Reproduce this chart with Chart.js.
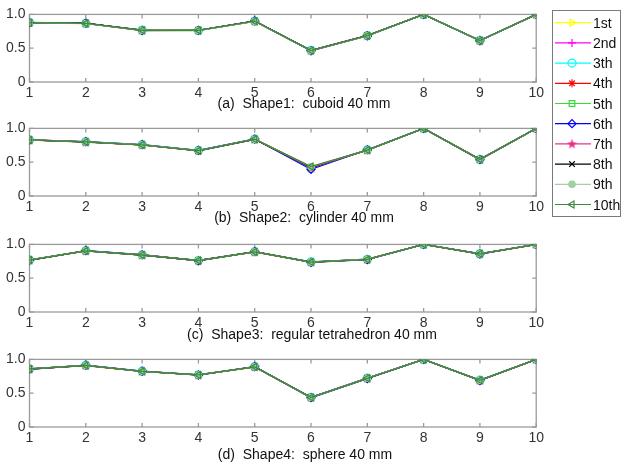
<!DOCTYPE html>
<html>
<head>
<meta charset="utf-8">
<script src="https://cdn.jsdelivr.net/npm/chart.js"></script>
<style>
  body { margin: 0; background: #fff; width: 622px; height: 467px; position: relative; overflow: hidden;
         font-family: "Liberation Sans", Arial, sans-serif; }
  canvas { position: absolute; }
  .caption { position: absolute; width: 400px; text-align: center; font-size: 14px;
             line-height: 16px; color: #111; white-space: pre; }
  .legend-text { position: absolute; left: 593px; font-size: 14px; line-height: 16px; color: #111; }
</style>
</head>
<body>
<canvas id="panel0" width="547" height="102" style="left:0;top:2px"></canvas>
<canvas id="panel1" width="547" height="102" style="left:0;top:116px"></canvas>
<canvas id="panel2" width="547" height="102" style="left:0;top:232px"></canvas>
<canvas id="panel3" width="547" height="102" style="left:0;top:347px"></canvas>
<canvas id="legendCanvas" width="70" height="208" style="left:552px;top:10px"></canvas>
<div id="captions"></div>
<div id="legendTexts"></div>
<script>
// chart data
const xValues = [1, 2, 3, 4, 5, 6, 7, 8, 9, 10];
const yTicks = [0, 0.5, 1];
const seriesNames = ['1st', '2nd', '3th', '4th', '5th', '6th', '7th', '8th', '9th', '10th'];
const captions = [
    '(a)  Shape1:  cuboid 40 mm',
    '(b)  Shape2:  cylinder 40 mm',
    '(c)  Shape3:  regular tetrahedron 40 mm',
    '(d)  Shape4:  sphere 40 mm'
];

const shape1Values = [
    [0.876, 0.864, 0.762, 0.760, 0.896, 0.462, 0.682, 1.000, 0.609, 1.000],
    [0.878, 0.867, 0.765, 0.763, 0.899, 0.465, 0.685, 1.000, 0.612, 1.000],
    [0.880, 0.866, 0.768, 0.762, 0.901, 0.468, 0.686, 0.998, 0.615, 1.000],
    [0.879, 0.868, 0.766, 0.765, 0.898, 0.466, 0.688, 1.000, 0.613, 0.998],
    [0.881, 0.869, 0.766, 0.767, 0.900, 0.465, 0.686, 1.000, 0.612, 1.000],
    [0.875, 0.870, 0.761, 0.764, 0.903, 0.461, 0.681, 1.000, 0.608, 1.000],
    [0.878, 0.867, 0.765, 0.763, 0.899, 0.465, 0.685, 1.000, 0.612, 1.000],
    [0.879, 0.866, 0.767, 0.764, 0.900, 0.467, 0.686, 1.000, 0.614, 1.000],
    [0.877, 0.865, 0.764, 0.762, 0.897, 0.464, 0.684, 1.000, 0.611, 1.000],
    [0.878, 0.867, 0.765, 0.763, 0.899, 0.465, 0.685, 1.000, 0.612, 1.000]
];
const shape2Values = [
    [0.826, 0.797, 0.754, 0.668, 0.836, 0.415, 0.676, 1.000, 0.538, 1.000],
    [0.829, 0.800, 0.757, 0.671, 0.839, 0.425, 0.679, 1.000, 0.541, 1.000],
    [0.831, 0.803, 0.759, 0.674, 0.842, 0.405, 0.683, 0.998, 0.544, 1.000],
    [0.832, 0.800, 0.756, 0.670, 0.840, 0.430, 0.680, 1.000, 0.541, 0.998],
    [0.829, 0.801, 0.757, 0.671, 0.839, 0.420, 0.679, 1.000, 0.542, 1.000],
    [0.827, 0.804, 0.760, 0.675, 0.843, 0.395, 0.684, 1.000, 0.537, 1.000],
    [0.829, 0.800, 0.757, 0.671, 0.839, 0.415, 0.679, 1.000, 0.541, 1.000],
    [0.830, 0.798, 0.755, 0.669, 0.837, 0.425, 0.677, 1.000, 0.543, 1.000],
    [0.831, 0.801, 0.758, 0.672, 0.840, 0.432, 0.680, 1.000, 0.541, 1.000],
    [0.829, 0.800, 0.757, 0.671, 0.839, 0.435, 0.679, 1.000, 0.541, 1.000]
];
const shape3Values = [
    [0.765, 0.902, 0.840, 0.757, 0.887, 0.735, 0.775, 1.000, 0.857, 1.000],
    [0.768, 0.905, 0.843, 0.760, 0.890, 0.738, 0.778, 1.000, 0.860, 1.000],
    [0.771, 0.907, 0.846, 0.762, 0.893, 0.741, 0.780, 0.998, 0.863, 1.000],
    [0.770, 0.904, 0.844, 0.763, 0.891, 0.739, 0.781, 1.000, 0.861, 0.998],
    [0.768, 0.905, 0.843, 0.760, 0.890, 0.738, 0.778, 1.000, 0.860, 1.000],
    [0.764, 0.908, 0.847, 0.757, 0.894, 0.734, 0.776, 1.000, 0.856, 1.000],
    [0.768, 0.905, 0.843, 0.760, 0.890, 0.738, 0.778, 1.000, 0.860, 1.000],
    [0.769, 0.903, 0.842, 0.762, 0.888, 0.740, 0.779, 1.000, 0.862, 1.000],
    [0.770, 0.905, 0.844, 0.761, 0.890, 0.738, 0.780, 1.000, 0.860, 1.000],
    [0.768, 0.905, 0.843, 0.760, 0.890, 0.738, 0.778, 1.000, 0.860, 1.000]
];
const shape4Values = [
    [0.855, 0.908, 0.820, 0.767, 0.887, 0.434, 0.718, 1.000, 0.687, 1.000],
    [0.858, 0.911, 0.823, 0.770, 0.890, 0.437, 0.721, 1.000, 0.690, 1.000],
    [0.861, 0.914, 0.826, 0.773, 0.893, 0.440, 0.724, 0.998, 0.693, 1.000],
    [0.860, 0.911, 0.824, 0.771, 0.891, 0.438, 0.722, 1.000, 0.691, 0.998],
    [0.858, 0.911, 0.823, 0.770, 0.890, 0.437, 0.721, 1.000, 0.690, 1.000],
    [0.854, 0.915, 0.827, 0.766, 0.894, 0.433, 0.717, 1.000, 0.686, 1.000],
    [0.858, 0.911, 0.823, 0.770, 0.890, 0.437, 0.721, 1.000, 0.690, 1.000],
    [0.859, 0.909, 0.822, 0.772, 0.888, 0.439, 0.723, 1.000, 0.692, 1.000],
    [0.860, 0.911, 0.824, 0.770, 0.890, 0.437, 0.722, 1.000, 0.690, 1.000],
    [0.858, 0.911, 0.823, 0.770, 0.890, 0.437, 0.721, 1.000, 0.690, 1.000]
];
const panelValues = [shape1Values, shape2Values, shape3Values, shape4Values];

// series styles (matlab-like markers)
const seriesColors = ['#ffff00', '#ff00ff', '#00ffff', '#ff0000', '#33dd33',
                      '#0000ff', '#e8308a', '#000000', '#9fd29f', '#3c8a3c'];

// filled pentagram for the 7th series
function makeStar(color) {
    const c = document.createElement('canvas');
    c.width = 11; c.height = 11;
    const g = c.getContext('2d');
    g.fillStyle = color;
    g.beginPath();
    for (let k = 0; k < 10; k++) {
        const r = k % 2 === 0 ? 5.2 : 2.2;
        const a = -Math.PI / 2 + k * Math.PI / 5;
        g.lineTo(5.5 + r * Math.cos(a), 5.8 + r * Math.sin(a));
    }
    g.closePath();
    g.fill();
    return c;
}
const seriesMarkers = ['triangle', 'cross', 'circle', 'star', 'rect',
                       'rectRot', makeStar(seriesColors[6]), 'crossRot', 'circle', 'triangle'];
const markerRotations = [90, 0, 0, 0, 0, 0, 0, 0, 0, -90];
const markerFilled = [false, false, false, false, false, false, true, false, true, false];
const markerRadius = [4, 4, 4, 4, 4, 4, 4, 4, 3.2, 4];

const fontFamily = '"Liberation Sans", Arial, sans-serif';
const axisColor = '#9a9a9a';

// box round the plot with inward ticks, like matlab
const frameTicks = {
    id: 'frameTicks',
    beforeDatasetsDraw(chart) {
        const { ctx, chartArea: a, scales: { x, y } } = chart;
        ctx.save();
        ctx.strokeStyle = axisColor;
        ctx.lineWidth = 1.3;
        ctx.strokeRect(a.left, a.top, a.right - a.left, a.bottom - a.top);
        ctx.beginPath();
        x.ticks.forEach(t => {
            const px = x.getPixelForValue(t.value);
            ctx.moveTo(px, a.bottom); ctx.lineTo(px, a.bottom - 4);
            ctx.moveTo(px, a.top); ctx.lineTo(px, a.top + 4);
        });
        y.ticks.forEach(t => {
            const py = y.getPixelForValue(t.value);
            ctx.moveTo(a.left, py); ctx.lineTo(a.left + 4, py);
            ctx.moveTo(a.right, py); ctx.lineTo(a.right - 4, py);
        });
        ctx.stroke();
        ctx.restore();
    }
};

function buildPanel(canvasId, values) {
    const datasets = seriesNames.map((name, i) => ({
        label: name,
        data: xValues.map((xv, k) => ({ x: xv, y: values[i][k] })),
        order: seriesNames.length - 1 - i,   // 10th drawn on top
        borderColor: seriesColors[i],
        borderWidth: 1.3,
        pointStyle: seriesMarkers[i],
        pointRotation: markerRotations[i],
        pointRadius: markerRadius[i],
        pointBorderWidth: 1.2,
        pointBorderColor: seriesColors[i],
        pointBackgroundColor: markerFilled[i] ? seriesColors[i] : 'rgba(0,0,0,0)',
        tension: 0,
        fill: false
    }));

    new Chart(document.getElementById(canvasId), {
        type: 'line',
        data: { datasets: datasets },
        options: {
            responsive: false,
            animation: false,
            layout: { padding: { top: 10, right: 8, left: 0, bottom: 0 } },
            plugins: { legend: { display: false }, tooltip: { enabled: false } },
            scales: {
                x: {
                    type: 'linear',
                    min: 1,
                    max: 10,
                    afterBuildTicks: s => { s.ticks = xValues.map(v => ({ value: v })); },
                    afterFit: s => { s.height = 22; },
                    grid: { display: false, drawTicks: false },
                    border: { display: false },
                    ticks: { padding: 3, color: '#333', maxRotation: 0, autoSkip: false,
                             font: { size: 14, family: fontFamily } }
                },
                y: {
                    min: 0,
                    max: 1,
                    afterBuildTicks: s => { s.ticks = yTicks.map(v => ({ value: v })); },
                    afterFit: s => { s.width = 29.5; },
                    grid: { display: false, drawTicks: false },
                    border: { display: false },
                    ticks: { padding: 4, color: '#333',
                             font: { size: 14, family: fontFamily },
                             callback: v => (v === 0 ? '0' : v.toFixed(1)) }
                }
            }
        },
        plugins: [frameTicks]
    });
}

panelValues.forEach((vals, i) => buildPanel('panel' + i, vals));

// captions under each panel
const captionTops = [95, 209, 326, 446];
const captionCenters = [304, 304, 312, 305];
const capDiv = document.getElementById('captions');
captions.forEach((txt, i) => {
    const d = document.createElement('div');
    d.className = 'caption';
    d.style.top = captionTops[i] + 'px';
    d.style.left = (captionCenters[i] - 200) + 'px';
    d.textContent = txt;
    capDiv.appendChild(d);
});

// legend box on the right
const lg = document.getElementById('legendCanvas');
const lctx = lg.getContext('2d');
lctx.strokeStyle = '#7a7a7a';
lctx.lineWidth = 1;
lctx.strokeRect(0.5, 0.5, 68, 206);
const legendTexts = document.getElementById('legendTexts');
seriesNames.forEach((name, i) => {
    const cy = 12.7 + i * 20.2;
    lctx.strokeStyle = seriesColors[i];
    lctx.lineWidth = 1.2;
    lctx.beginPath();
    lctx.moveTo(3, cy); lctx.lineTo(39, cy);
    lctx.stroke();
    lctx.fillStyle = markerFilled[i] ? seriesColors[i] : 'rgba(0,0,0,0)';
    if (Chart.helpers && Chart.helpers.drawPoint) {
        Chart.helpers.drawPoint(lctx, {
            pointStyle: seriesMarkers[i], rotation: markerRotations[i],
            radius: markerRadius[i], borderWidth: 1
        }, 20, cy);
    }
    const t = document.createElement('div');
    t.className = 'legend-text';
    t.style.top = (10 + cy - 8) + 'px';
    t.textContent = name;
    legendTexts.appendChild(t);
});
</script>
</body>
</html>
